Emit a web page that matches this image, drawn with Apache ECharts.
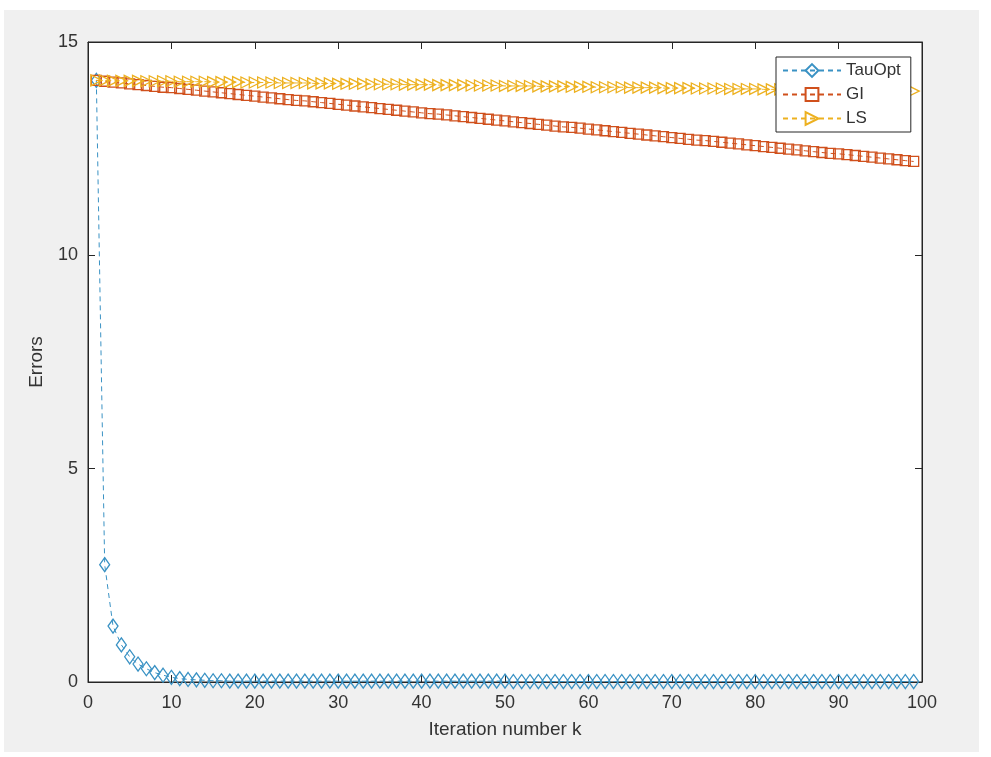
<!DOCTYPE html>
<html>
<head>
<meta charset="utf-8">
<script src="https://cdn.jsdelivr.net/npm/echarts@6/dist/echarts.min.js"></script>
<style>
  html, body { margin: 0; padding: 0; background: #fff; }
  #figBack { position: absolute; left: 4px; top: 10px; width: 975px; height: 742px; background: #f0f0f0; }
  #chartBox { position: absolute; left: 0; top: 0; width: 991px; height: 757px; }
</style>
</head>
<body>
<div id="figBack"></div>
<div id="chartBox"></div>
<script>
// iteration numbers k = 1..99
const iterations = [
  1, 2, 3, 4, 5, 6, 7, 8, 9, 10, 11, 12, 13, 14, 15, 16, 17, 18, 19, 20,
  21, 22, 23, 24, 25, 26, 27, 28, 29, 30, 31, 32, 33, 34, 35, 36, 37, 38, 39, 40,
  41, 42, 43, 44, 45, 46, 47, 48, 49, 50, 51, 52, 53, 54, 55, 56, 57, 58, 59, 60,
  61, 62, 63, 64, 65, 66, 67, 68, 69, 70, 71, 72, 73, 74, 75, 76, 77, 78, 79, 80,
  81, 82, 83, 84, 85, 86, 87, 88, 89, 90, 91, 92, 93, 94, 95, 96, 97, 98, 99
];

const tauOptErrors = [
  14.10, 2.75, 1.31, 0.87, 0.59, 0.42, 0.31, 0.22, 0.16, 0.11,
  0.08, 0.06, 0.05, 0.04, 0.03, 0.03, 0.02, 0.02, 0.02, 0.02,
  0.02, 0.02, 0.02, 0.02, 0.02, 0.02, 0.02, 0.02, 0.02, 0.02,
  0.02, 0.02, 0.02, 0.02, 0.02, 0.02, 0.02, 0.02, 0.02, 0.02,
  0.02, 0.02, 0.02, 0.02, 0.02, 0.02, 0.02, 0.02, 0.02, 0.02,
  0.01, 0.01, 0.01, 0.01, 0.01, 0.01, 0.01, 0.01, 0.01, 0.01,
  0.01, 0.01, 0.01, 0.01, 0.01, 0.01, 0.01, 0.01, 0.01, 0.01,
  0.01, 0.01, 0.01, 0.01, 0.01, 0.01, 0.01, 0.01, 0.01, 0.01,
  0.01, 0.01, 0.01, 0.01, 0.01, 0.01, 0.01, 0.01, 0.01, 0.01,
  0.01, 0.01, 0.01, 0.01, 0.01, 0.01, 0.01, 0.01, 0.01
];

const giErrors = [
  14.10, 14.08, 14.06, 14.04, 14.02, 14.00, 13.98, 13.96, 13.94, 13.93,
  13.91, 13.89, 13.87, 13.85, 13.83, 13.81, 13.79, 13.77, 13.75, 13.73,
  13.71, 13.69, 13.67, 13.65, 13.63, 13.62, 13.60, 13.58, 13.56, 13.54,
  13.52, 13.50, 13.48, 13.46, 13.44, 13.42, 13.40, 13.38, 13.36, 13.34,
  13.32, 13.31, 13.29, 13.27, 13.25, 13.23, 13.21, 13.19, 13.17, 13.15,
  13.13, 13.11, 13.09, 13.07, 13.05, 13.03, 13.01, 13.00, 12.98, 12.96,
  12.94, 12.92, 12.90, 12.88, 12.86, 12.84, 12.82, 12.80, 12.78, 12.76,
  12.74, 12.72, 12.70, 12.69, 12.67, 12.65, 12.63, 12.61, 12.59, 12.57,
  12.55, 12.53, 12.51, 12.49, 12.47, 12.45, 12.43, 12.41, 12.39, 12.38,
  12.36, 12.34, 12.32, 12.30, 12.28, 12.26, 12.24, 12.22, 12.20
];

const lsErrors = [
  14.10, 14.10, 14.09, 14.09, 14.09, 14.09, 14.08, 14.08, 14.08, 14.08,
  14.07, 14.07, 14.07, 14.07, 14.06, 14.06, 14.06, 14.06, 14.05, 14.05,
  14.05, 14.05, 14.04, 14.04, 14.04, 14.04, 14.03, 14.03, 14.03, 14.02,
  14.02, 14.02, 14.02, 14.01, 14.01, 14.01, 14.01, 14.00, 14.00, 14.00,
  14.00, 13.99, 13.99, 13.99, 13.99, 13.98, 13.98, 13.98, 13.98, 13.97,
  13.97, 13.97, 13.97, 13.96, 13.96, 13.96, 13.96, 13.95, 13.95, 13.95,
  13.94, 13.94, 13.94, 13.94, 13.93, 13.93, 13.93, 13.93, 13.92, 13.92,
  13.92, 13.92, 13.91, 13.91, 13.91, 13.91, 13.90, 13.90, 13.90, 13.90,
  13.89, 13.89, 13.89, 13.89, 13.88, 13.88, 13.88, 13.88, 13.87, 13.87,
  13.87, 13.87, 13.86, 13.86, 13.86, 13.86, 13.85, 13.85, 13.85
];

const seriesNames = ['TauOpt', 'GI', 'LS'];
const xTicks = [0, 10, 20, 30, 40, 50, 60, 70, 80, 90, 100];
const yTicks = [0, 5, 10, 15];

const axisColor = '#262626';
const textColor = '#333333';
const fontFam = '"Liberation Sans", Arial, sans-serif';

function pairs(vals) {
  return vals.map((v, i) => [iterations[i], v]);
}

function lineSeries(name, vals, color, symbol, size, rotate) {
  return {
    name: name,
    type: 'line',
    data: pairs(vals),
    symbol: symbol,
    symbolSize: size,
    symbolRotate: rotate || 0,
    showAllSymbol: true,
    animation: false,
    lineStyle: { color: color, width: 1, type: [5, 4] },
    itemStyle: { color: 'rgba(255,255,255,0)', borderColor: color, borderWidth: 1.3 },
    emphasis: { disabled: true }
  };
}

// axis line/ticks shared by all four sides (MATLAB box, ticks inside)
function frameParts() {
  return {
    axisLine: { show: true, onZero: false, lineStyle: { color: axisColor } },
    axisTick: { show: true, inside: true, length: 7, lineStyle: { color: axisColor } },
    splitLine: { show: false }
  };
}

let myChart = echarts.init(document.getElementById('chartBox'), null, { renderer: 'canvas' });

let option = {
  backgroundColor: 'transparent',
  textStyle: { fontFamily: fontFam },
  grid: {
    left: 88, right: 69, top: 42, bottom: 75,
    show: true, backgroundColor: '#fff', borderColor: axisColor, borderWidth: 1
  },
  legend: {
    data: seriesNames,
    orient: 'vertical',
    left: 776, top: 57,
    padding: [5, 10, 5, 6],
    itemGap: 7,
    itemWidth: 58,
    itemHeight: 16,
    backgroundColor: '#fff',
    borderColor: axisColor,
    borderWidth: 1,
    borderRadius: 0,
    textStyle: { fontSize: 17, color: textColor, fontFamily: fontFam }
  },
  xAxis: [
    Object.assign({
      type: 'value', min: 0, max: 100, interval: 10,
      name: 'Iteration number k', nameLocation: 'middle', nameGap: 38,
      nameTextStyle: { fontSize: 19, color: textColor },
      axisLabel: {
        fontSize: 18, color: textColor, margin: 12,
        formatter: v => xTicks.includes(v) ? String(v) : ''
      }
    }, frameParts()),
    Object.assign({
      type: 'value', min: 0, max: 100, interval: 10, position: 'top',
      axisLabel: { show: false }
    }, frameParts())
  ],
  yAxis: [
    Object.assign({
      type: 'value', min: 0, max: 15, interval: 5,
      name: 'Errors', nameLocation: 'middle', nameGap: 42,
      nameTextStyle: { fontSize: 19, color: textColor },
      axisLabel: {
        fontSize: 18, color: textColor, margin: 10,
        formatter: v => yTicks.includes(v) ? String(v) : ''
      }
    }, frameParts()),
    Object.assign({
      type: 'value', min: 0, max: 15, interval: 5, position: 'right',
      axisLabel: { show: false }
    }, frameParts())
  ],
  series: [
    lineSeries('TauOpt', tauOptErrors, '#3a92c4', 'diamond', [10, 14]),
    lineSeries('GI', giErrors, '#D0501C', 'rect', 10),
    lineSeries('LS', lsErrors, '#EDB120', 'triangle', 11, -90)
  ]
};

myChart.setOption(option);
</script>
</body>
</html>
